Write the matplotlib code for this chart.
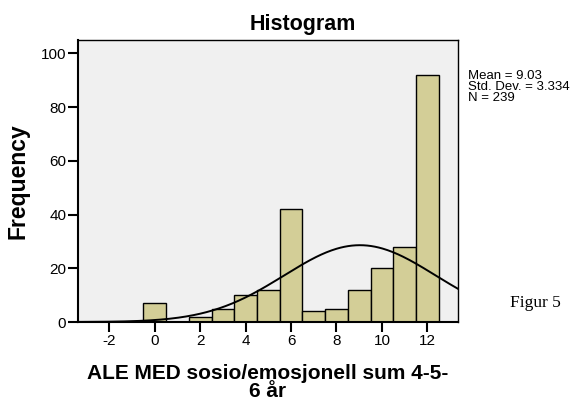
import numpy as np
import matplotlib
matplotlib.use("Agg")
import matplotlib.pyplot as plt

# histogram data (bin centres and counts)
bins = [0, 1, 2, 3, 4, 5, 6, 7, 8, 9, 10, 11, 12]
counts = [7, 0, 2, 5, 10, 12, 42, 4, 5, 12, 20, 28, 92]
mean = 9.03
std = 3.334
n = 239
xticks = [-2, 0, 2, 4, 6, 8, 10, 12]
xtick_labels = ["-2", "0", "2", "4", "6", "8", "10", "12"]
yticks = [0, 20, 40, 60, 80, 100]

plt.rcParams["font.family"] = ["Liberation Sans", "DejaVu Sans"]

fig = plt.figure(figsize=(5.88, 4.01), dpi=100)
ax = fig.add_axes([78 / 588, 1 - 322 / 401, 380 / 588, 282 / 401])
ax.set_facecolor("#F0F0F0")

ax.bar(bins, counts, width=1.0, color="#D3CE97", edgecolor="black", linewidth=1.0, zorder=2)

xs = np.linspace(-3.4, 13.4, 300)
curve = n * 1.0 / (std * np.sqrt(2 * np.pi)) * np.exp(-0.5 * ((xs - mean) / std) ** 2)
ax.plot(xs, curve, color="black", linewidth=1.4, zorder=3)

ax.set_xlim(-3.38, 13.35)
ax.set_ylim(0, 105)
ax.set_xticks(xticks)
ax.set_xticklabels(xtick_labels)
ax.set_yticks(yticks)
ax.tick_params(axis="both", labelsize=11, length=7, width=1.5, color="black", pad=1.5)
for s in ax.spines.values():
    s.set_linewidth(1.0)
ax.spines["left"].set_linewidth(1.5)
ax.spines["bottom"].set_linewidth(1.5)

# title sits right of the axes centre in the original
fig.text(302.5 / 588, 1 - 30 / 401, "Histogram", fontsize=15.5, fontweight="bold",
         ha="center", va="baseline")
ax.set_ylabel("Frequency", fontsize=16.5, fontweight="bold", labelpad=8)
ax.set_xlabel("ALE MED sosio/emosjonell sum 4-5-\n6 år", fontsize=15, fontweight="bold",
              labelpad=12, linespacing=0.9)

fig.text(468 / 588, 1 - 87 / 401, "Mean = 9.03\nStd. Dev. = 3.334\nN = 239",
         fontsize=9.5, va="center", ha="left", linespacing=0.85)
fig.text(510 / 588, 1 - 303 / 401, "Figur 5", fontsize=12.5,
         family=["Liberation Serif", "DejaVu Serif"], va="center", ha="left")

fig.savefig("out.png", dpi=100)
